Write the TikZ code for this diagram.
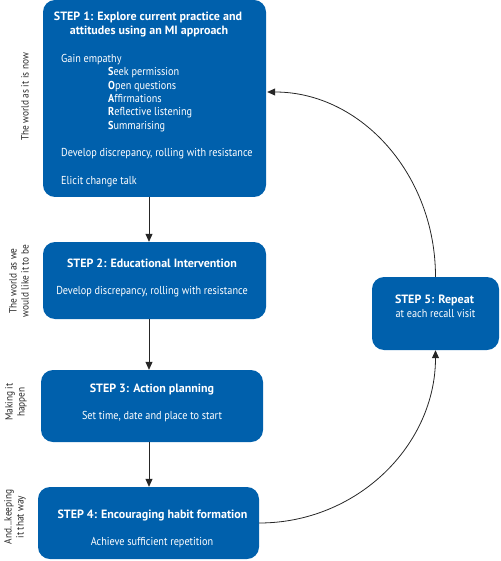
\documentclass[tikz,border=0pt]{standalone}
\usepackage{fontspec}
\setmainfont{PT Sans}
\newfontfamily\bodyfont{PT Sans}[FakeStretch=0.89]
\usetikzlibrary{arrows.meta,calc}
\definecolor{boxblue}{RGB}{0,96,172}
\definecolor{labelgrey}{RGB}{40,40,40}
\tikzset{
  stepbox/.style={draw=none,fill=boxblue,rounded corners=12pt,inner sep=0pt},
  wtext/.style={text=white,inner sep=0pt,font=\bodyfont\fontsize{11.5}{13.5}\selectfont},
  ttext/.style={text=white,inner sep=0pt,font=\fontsize{12}{14}\selectfont\bfseries},
  side/.style={text=labelgrey,inner sep=0pt,rotate=90,align=center,font=\bodyfont\fontsize{10.5}{12}\selectfont},
  arr/.style={draw=black!85,line width=0.8pt,-{Triangle[width=7pt,length=8pt]}},
}
\begin{document}
\begin{tikzpicture}[x=1pt,y=1pt]
\useasboundingbox (0,0) rectangle (500,-561);
% boxes
\node[stepbox,minimum width=223pt,minimum height=197pt] (b1) at (154.5,-98.5) {};
\node[stepbox,minimum width=223pt,minimum height=77pt] (b2) at (154.5,-280.5) {};
\node[stepbox,minimum width=222pt,minimum height=72pt] (b3) at (152,-406) {};
\node[stepbox,minimum width=221pt,minimum height=72pt] (b4) at (148.5,-523) {};
\node[stepbox,minimum width=127pt,minimum height=73pt] (b5) at (435.5,-313.5) {};
% step 1 text
\node[ttext,anchor=mid] (t1a) at (148,-18) {STEP 1: Explore current practice and};
\node[ttext,anchor=mid] (t1b) at (149,-32) {attitudes using an MI approach};
\node[wtext,anchor=mid west] (g1) at (61,-60) {Gain empathy};
\node[wtext,anchor=mid west] (s1) at (108,-73.3) {\textbf{S}eek permission};
\node[wtext,anchor=mid west] (s2) at (108,-86.7) {\textbf{O}pen questions};
\node[wtext,anchor=mid west] (s3) at (108,-100) {\textbf{A}ffirmations};
\node[wtext,anchor=mid west] (s4) at (108,-113.3) {\textbf{R}eflective listening};
\node[wtext,anchor=mid west] (s5) at (108,-126.7) {\textbf{S}ummarising};
\node[wtext,anchor=mid west] (d1) at (61,-154) {Develop discrepancy, rolling with resistance};
\node[wtext,anchor=mid west] (e1) at (61,-182) {Elicit change talk};
% step 2
\node[ttext,anchor=mid] (t2) at (152,-265) {STEP 2: Educational Intervention};
\node[wtext,anchor=mid] (d2) at (152,-292) {Develop discrepancy, rolling with resistance};
% step 3
\node[ttext,anchor=mid] (t3) at (152,-390) {STEP 3: Action planning};
\node[wtext,anchor=mid] (d3) at (152,-417) {Set time, date and place to start};
% step 4
\node[ttext,anchor=mid] (t4) at (152.5,-516) {STEP 4: Encouraging habit formation};
\node[wtext,anchor=mid] (d4) at (152,-543) {Achieve sufficient repetition};
% step 5
\node[ttext,anchor=mid] (t5) at (434.5,-301) {STEP 5: Repeat};
\node[wtext,anchor=mid] (d5) at (435.5,-315) {at each recall visit};
% side labels
\node[side] (l1) at (25,-97) {The world as it is now};
\node[side] (l2) at (19,-281) {The world as we\\would like it to be};
\node[side] (l3) at (16,-402) {Making it\\happen};
\node[side] (l4) at (15,-517) {And...keeping\\it that way};
% connectors
\coordinate (ax) at (149,0);
\draw[arr] (b1.south -| ax) -- (b2.north -| ax);
\draw[arr] (b2.south -| ax) -- (b3.north -| ax);
\draw[arr] (b3.south -| ax) -- (b4.north -| ax);
\draw[arr] (b4.east) .. controls +(98,0) and +(0,-95) .. (b5.south);
\coordinate (in1) at ($(b1.east)+(1,6.5)$);
\draw[arr] (b5.north) .. controls +(0,102) and +(94,0) .. (in1);
\end{tikzpicture}
\end{document}
